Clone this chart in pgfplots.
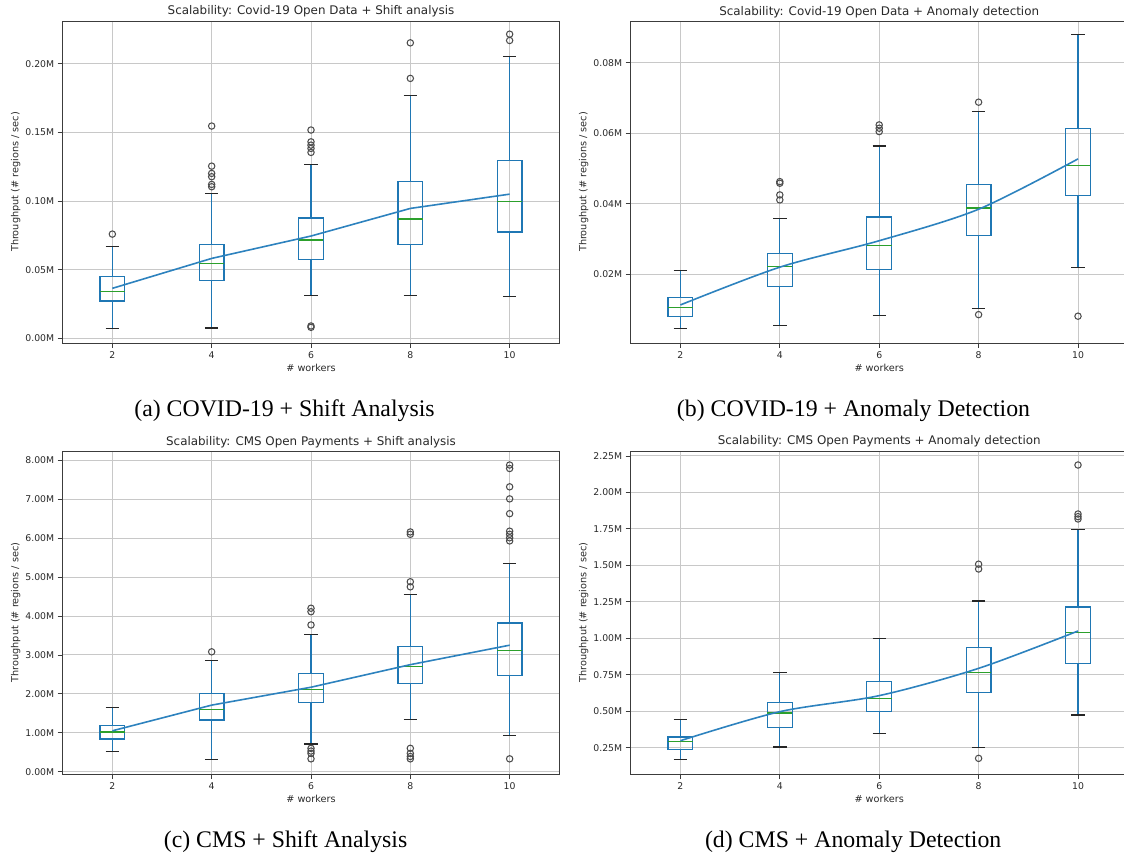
\documentclass[border=0pt]{standalone}
\usepackage{fontspec}
\setmainfont{DejaVu Sans}
\newfontfamily\capfont{Liberation Serif}
\usepackage{pgfplots}
\pgfplotsset{compat=1.18}
\definecolor{mplblue}{RGB}{31,119,180}
\definecolor{meanblue}{RGB}{45,130,190}
\definecolor{mplgreen}{RGB}{44,160,44}
\definecolor{gridgray}{RGB}{200,200,200}
\definecolor{spinecol}{RGB}{60,60,60}
\definecolor{txt}{RGB}{40,40,40}

\pgfplotsset{
  boxln/.style={mplblue, line width=1.25pt, mark=none, line cap=rect},
  whisk/.style={mplblue, line width=1.2pt, mark=none},
  medln/.style={mplgreen, line width=1.2pt, mark=none},
  capln/.style={black!85, line width=1.1pt, mark=none},
  outl/.style={only marks, mark=o, mark size=3.2pt, mark options={draw=black!70, line width=1.05pt, fill=none, solid}},
  meanline/.style={meanblue, line width=1.6pt, mark=none},
  myaxis/.style={
    scale only axis,
    xmin=1, xmax=11, xtick={2,4,6,8,10},
    grid=major, grid style={gridgray, line width=1pt},
    axis line style={spinecol, line width=0.9pt},
    tick align=outside, tick pos=left, major tick length=5pt,
    tick style={spinecol, line width=0.8pt},
    ticklabel style={font=\fontsize{9.3}{11}\selectfont, text=txt},
    /pgf/number format/assume math mode=true,
    scaled y ticks=false,
    yticklabel={\pgfmathprintnumber[fixed,fixed zerofill,precision=2]{\tick}M},
    xlabel={\# workers},
    ylabel={Throughput (\# regions / sec)},
    label style={font=\fontsize{9.7}{11}\selectfont, text=txt},
    xlabel style={at={(axis description cs:0.5,0)}, anchor=base, yshift=-28.5pt, inner sep=0pt},
    ylabel style={at={(axis description cs:-0.089,0.5)}, anchor=base, inner sep=0pt},
    title style={font=\fontsize{11.9}{14}\selectfont, text=txt, at={(axis description cs:0.5,1)}, anchor=base, inner sep=0pt},
  },
}
% \boxat{position}{lower whisker}{lower quartile}{median}{upper quartile}{upper whisker}
\newcommand{\boxat}[6]{%
  \pgfmathsetmacro{\xl}{#1-0.25}\pgfmathsetmacro{\xr}{#1+0.25}%
  \pgfmathsetmacro{\cl}{#1-0.135}\pgfmathsetmacro{\cr}{#1+0.135}%
  \edef\tmpplot{%
    \noexpand\addplot[whisk] coordinates {(#1,#2)(#1,#3)};
    \noexpand\addplot[whisk] coordinates {(#1,#5)(#1,#6)};
    \noexpand\addplot[boxln] coordinates {(\xl,#3)(\xr,#3)(\xr,#5)(\xl,#5)(\xl,#3)};
    \noexpand\addplot[medln] coordinates {(\xl,#4)(\xr,#4)};
    \noexpand\addplot[capln] coordinates {(\cl,#2)(\cr,#2)};
    \noexpand\addplot[capln] coordinates {(\cl,#6)(\cr,#6)};
  }\tmpplot}

\begin{document}
\begin{tikzpicture}
\useasboundingbox (0pt,0pt) rectangle (1124pt,855pt);

% (a)
\begin{axis}[myaxis, at={(62.7pt,512pt)}, anchor=south west, width=496.6pt, height=322pt,
  ymin=-0.0034, ymax=0.2311, ytick={0,0.05,0.1,0.15,0.2},
  title={Scalability: Covid-19 Open Data + Shift analysis}]
\boxat{2}{0.0070}{0.0272}{0.0342}{0.0449}{0.0667}
\boxat{4}{0.0075}{0.0420}{0.0546}{0.0681}{0.1056}
\boxat{6}{0.0313}{0.0572}{0.0716}{0.0876}{0.1264}
\boxat{8}{0.0313}{0.0681}{0.0869}{0.1143}{0.1769}
\boxat{10}{0.0306}{0.0774}{0.0997}{0.1293}{0.2050}
\addplot[outl] coordinates {(2,0.0759)
  (4,0.1546)(4,0.1254)(4,0.1201)(4,0.1177)(4,0.1121)(4,0.1104)
  (6,0.1517)(6,0.1431)(6,0.1407)(6,0.1383)(6,0.1354)(6,0.0090)(6,0.0080)
  (8,0.2152)(8,0.1893)
  (10,0.2215)(10,0.2169)};
\addplot[meanline] coordinates {(2,0.0364)(4,0.0582)(6,0.0745)(8,0.0946)(10,0.1050)};
\end{axis}

% (b)
\begin{axis}[myaxis, at={(630.7pt,512pt)}, anchor=south west, width=497pt, height=322pt,
  ymin=0.0005, ymax=0.0918, ytick={0.02,0.04,0.06,0.08},
  title={Scalability: Covid-19 Open Data + Anomaly detection}]
\boxat{2}{0.00457}{0.00809}{0.01064}{0.01348}{0.0210}
\boxat{4}{0.00534}{0.0166}{0.02216}{0.02584}{0.03568}
\boxat{6}{0.00817}{0.02142}{0.02811}{0.03625}{0.05636}
\boxat{8}{0.01016}{0.03095}{0.0388}{0.04541}{0.06623}
\boxat{10}{0.0219}{0.0424}{0.0508}{0.0614}{0.0879}
\addplot[outl] coordinates {(4,0.04626)(4,0.0458)(4,0.04249)(4,0.04107)
  (6,0.06234)(6,0.0614)(6,0.06044)
  (8,0.06878)(8,0.00854)
  (10,0.0081)};
\addplot[meanline, smooth, tension=0.5] coordinates {(2,0.01129)(4,0.0220)(6,0.0295)(8,0.03843)(10,0.0527)};
\end{axis}

% (c)
\begin{axis}[myaxis, at={(62.7pt,81pt)}, anchor=south west, width=496.6pt, height=323pt,
  ymin=-0.06, ymax=8.24, ytick={0,1,2,3,4,5,6,7,8},
  title={Scalability: CMS Open Payments + Shift analysis}]
\boxat{2}{0.51}{0.84}{1.02}{1.19}{1.65}
\boxat{4}{0.31}{1.33}{1.60}{2.00}{2.85}
\boxat{6}{0.71}{1.78}{2.12}{2.52}{3.52}
\boxat{8}{1.35}{2.27}{2.71}{3.21}{4.56}
\boxat{10}{0.92}{2.48}{3.11}{3.82}{5.35}
\addplot[outl] coordinates {(4,3.08)
  (6,4.20)(6,4.11)(6,3.77)(6,0.60)(6,0.53)(6,0.47)(6,0.33)
  (8,6.16)(8,6.10)(8,4.88)(8,4.75)(8,0.60)(8,0.47)(8,0.39)(8,0.33)
  (10,7.88)(10,7.79)(10,7.32)(10,7.01)(10,6.63)(10,6.18)(10,6.10)(10,6.01)(10,5.93)(10,0.33)};
\addplot[meanline] coordinates {(2,1.05)(4,1.71)(6,2.17)(8,2.75)(10,3.25)};
\end{axis}

% (d)
\begin{axis}[myaxis, at={(630.7pt,81pt)}, anchor=south west, width=497pt, height=323pt,
  ymin=0.0697, ymax=2.284, ytick={0.25,0.5,0.75,1,1.25,1.5,1.75,2,2.25},
  title={Scalability: CMS Open Payments + Anomaly detection}]
\boxat{2}{0.168}{0.239}{0.291}{0.323}{0.445}
\boxat{4}{0.255}{0.390}{0.488}{0.559}{0.764}
\boxat{6}{0.346}{0.500}{0.589}{0.703}{0.997}
\boxat{8}{0.25}{0.630}{0.767}{0.938}{1.256}
\boxat{10}{0.474}{0.826}{1.039}{1.215}{1.748}
\addplot[outl] coordinates {(8,1.508)(8,1.475)(8,0.177)
  (10,2.188)(10,1.852)(10,1.834)(10,1.818)};
\addplot[meanline, smooth, tension=0.5] coordinates {(2,0.298)(4,0.497)(6,0.607)(8,0.794)(10,1.050)};
\end{axis}

\node[font=\capfont\fontsize{23.8}{28}\selectfont, inner sep=0pt] at (284.5pt,444pt) {(a) COVID-19 + Shift Analysis};
\node[font=\capfont\fontsize{23.8}{28}\selectfont, inner sep=0pt] at (853.5pt,444pt) {(b) COVID-19 + Anomaly Detection};
\node[font=\capfont\fontsize{23.8}{28}\selectfont, inner sep=0pt] at (285.6pt,13.5pt) {(c) CMS + Shift Analysis};
\node[font=\capfont\fontsize{23.8}{28}\selectfont, inner sep=0pt] at (853.2pt,13.5pt) {(d) CMS + Anomaly Detection};
\end{tikzpicture}
\end{document}
